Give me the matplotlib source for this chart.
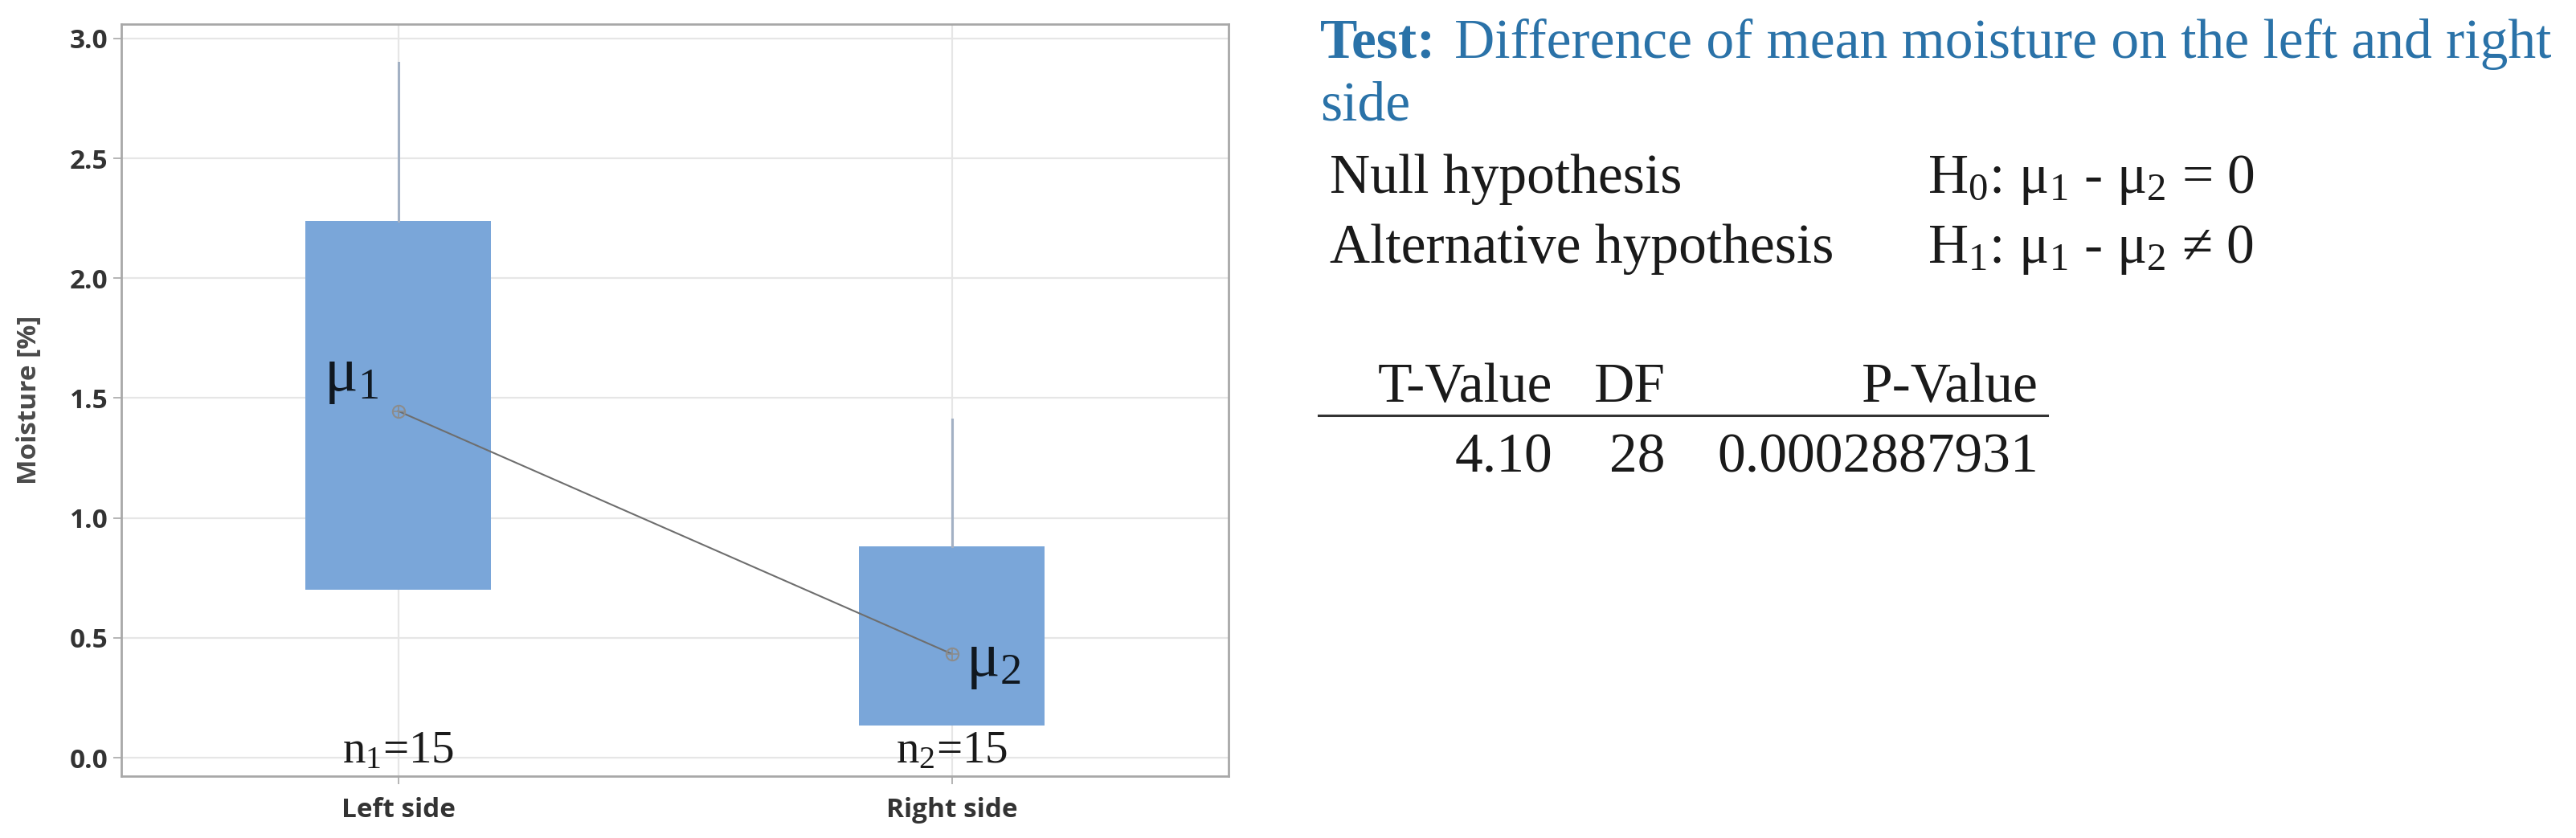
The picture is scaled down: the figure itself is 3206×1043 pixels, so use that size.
import matplotlib
matplotlib.use('Agg')
import matplotlib.pyplot as plt

# dati
categories = ['Left side', 'Right side']
q1 = [0.70, 0.134]
q3 = [2.24, 0.88]
whis_lo = [0.70, 0.134]
whis_hi = [2.90, 1.41]
means = [1.446, 0.433]
n_labels = ['n$_1$=15', 'n$_2$=15']
mu_labels = ['μ$_1$', 'μ$_2$']
y_ticks = [0.0, 0.5, 1.0, 1.5, 2.0, 2.5, 3.0]

title_bold = 'Test:'
title_rest = 'Difference of mean moisture on the left and right'
title_line2 = 'side'
hyp_names = ['Null hypothesis', 'Alternative hypothesis']
hyp_formulas = ['H$_0$: μ$_1$ - μ$_2$ = 0', 'H$_1$: μ$_1$ - μ$_2$ ≠ 0']
table_header = ['T-Value', 'DF', 'P-Value']
table_values = ['4.10', '28', '0.0002887931']

plt.rcParams['mathtext.fontset'] = 'custom'
plt.rcParams['mathtext.rm'] = 'Liberation Serif'
plt.rcParams['mathtext.default'] = 'regular'

W, H = 3206, 1043
fig = plt.figure(figsize=(W / 100, H / 100), dpi=100)

def px(x, y):
    # pixel -> coordinate figura
    return x / W, 1 - y / H

ax = fig.add_axes([151 / W, 1 - 966 / H, (1529 - 151) / W, (966 - 30) / H])

pos = list(range(len(categories)))
stats = []
for i in pos:
    stats.append({'med': q1[i], 'q1': q1[i], 'q3': q3[i],
                  'whislo': whis_lo[i], 'whishi': whis_hi[i], 'fliers': []})
ax.bxp(stats, positions=pos, widths=0.334, patch_artist=True, showcaps=False,
       boxprops=dict(facecolor='#7AA6D9', edgecolor='#7AA6D9', linewidth=0),
       whiskerprops=dict(color='#A3B1C4', linewidth=2.2),
       medianprops=dict(linewidth=0), zorder=2)

# linea delle medie
ax.plot(pos, means, color='#6E6E6E', linewidth=1.5, zorder=3)
ax.plot(pos, means, linestyle='none', marker='o', markersize=11, mfc='none',
        mec='#8C8C8C', mew=1.5, zorder=4)
ax.plot(pos, means, linestyle='none', marker='+', markersize=11,
        mec='#8C8C8C', mew=1.2, zorder=4)

# etichette mu e n
ax.text(pos[0] - 0.134, means[0] + 0.085, mu_labels[0], fontsize=56,
        family='Liberation Serif', color='#101820', va='baseline', ha='left', zorder=5)
ax.text(pos[1] + 0.025, means[1] - 0.09, mu_labels[1], fontsize=56,
        family='Liberation Serif', color='#101820', va='baseline', ha='left', zorder=5)
for i in pos:
    ax.text(i, -0.02, n_labels[i], fontsize=41, family='Liberation Serif',
            color='#1a1a1a', ha='center', va='baseline', zorder=5)

ax.set_xlim(-0.5, 1.5)
ax.set_ylim(-0.077, 3.06)
ax.set_xticks(pos)
ax.set_xticklabels(categories)
ax.set_yticks(y_ticks)
ax.set_yticklabels(['%.1f' % v for v in y_ticks])
ax.grid(True, color='#E6E6E6', linewidth=1.6, zorder=0)
ax.set_axisbelow(True)
for s in ax.spines.values():
    s.set_color('#A8A8A8')
    s.set_linewidth(2.0)
ax.tick_params(axis='both', length=7, width=1.2, color='#A8A8A8',
               labelcolor='#333333', labelsize=24, pad=5)
ax.tick_params(axis='x', pad=12)
for lab in ax.get_xticklabels() + ax.get_yticklabels():
    lab.set_family('Open Sans')
    lab.set_weight('bold')
ax.set_ylabel('Moisture [%]', fontsize=24, family='Open Sans', weight='bold',
              color='#4A4A4A')
ax.yaxis.set_label_coords(-0.071, 0.5)

# testo a destra
blue = '#2A72A8'
fs = 50
fig.text(*px(1643, 72), title_bold, fontsize=fs, weight='bold', color=blue,
         family='Liberation Serif', va='baseline')
fig.text(*px(1810, 72), title_rest, fontsize=fs, color=blue,
         family='Liberation Serif', va='baseline')
fig.text(*px(1643, 150), title_line2, fontsize=fs, color=blue,
         family='Liberation Serif', va='baseline')

hyp_y = [240, 327]
for i in range(2):
    fig.text(*px(1655, hyp_y[i]), hyp_names[i], fontsize=fs, color='#1a1a1a',
             family='Liberation Serif', va='baseline')
    fig.text(*px(2399, hyp_y[i]), hyp_formulas[i], fontsize=fs, color='#1a1a1a',
             family='Liberation Serif', va='baseline')

col_right = [1932, 2073, 2537]
for i in range(3):
    fig.text(*px(col_right[i], 500), table_header[i], fontsize=fs, color='#1a1a1a',
             family='Liberation Serif', va='baseline', ha='right')
    fig.text(*px(col_right[i], 587), table_values[i], fontsize=fs, color='#1a1a1a',
             family='Liberation Serif', va='baseline', ha='right')
x0, y0 = px(1641, 517)
x1, _ = px(2548, 517)
fig.add_artist(plt.Line2D([x0, x1], [y0, y0], color='#333333', linewidth=2.2))

fig.savefig('out.png', dpi=100, facecolor='white')
